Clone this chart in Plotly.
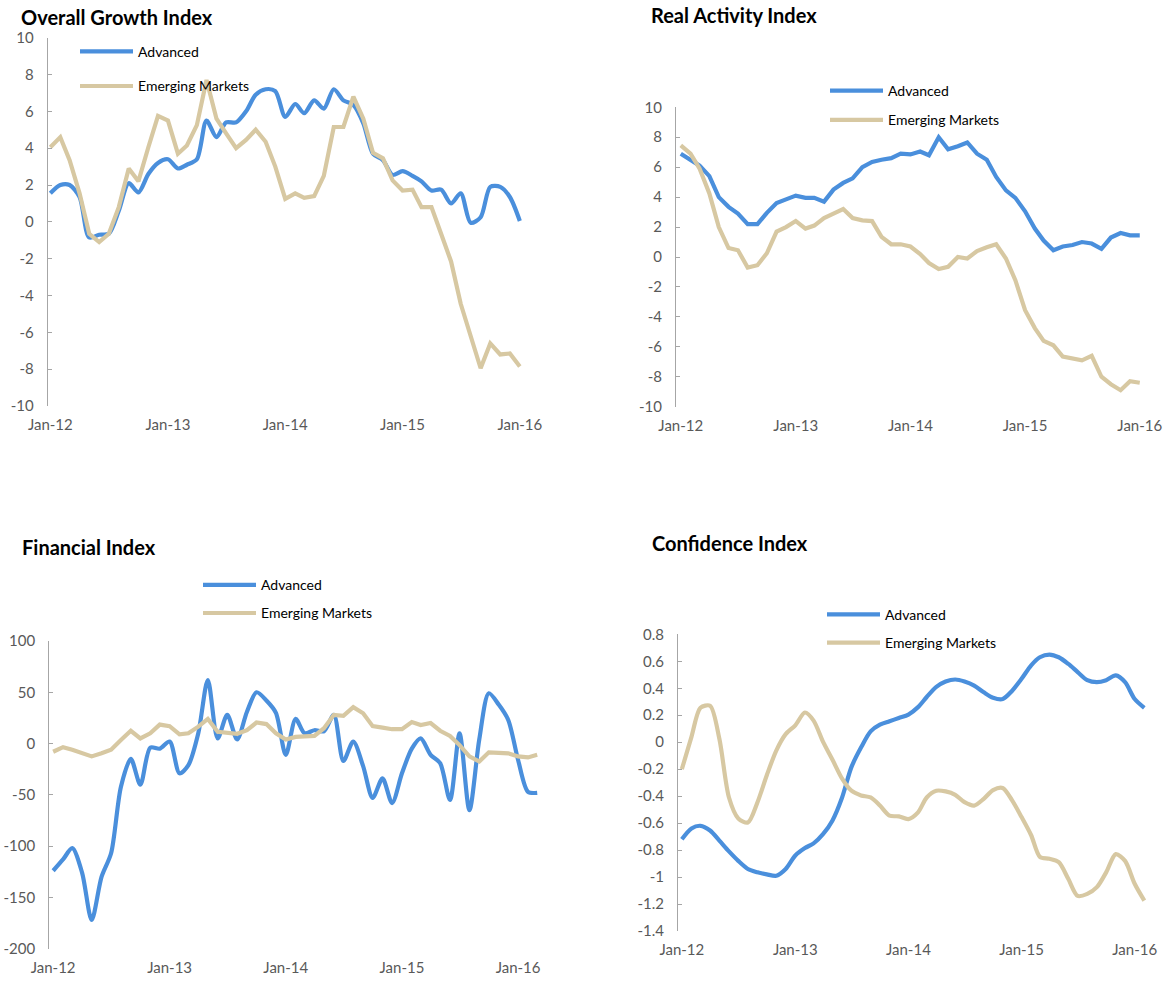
import pandas as pd
import plotly.graph_objects as go

# ---------------- DATA ----------------
dates49 = pd.date_range("2012-01-01", periods=49, freq="MS")
dates50 = pd.date_range("2012-01-01", periods=50, freq="MS")
dates51 = pd.date_range("2012-01-01", periods=51, freq="MS")

growth_adv = [1.55, 2.0, 2.0, 1.35, -0.85, -0.7, -0.65, 0.6, 2.1, 1.6, 2.6, 3.2, 3.4,
              2.9, 3.1, 3.4, 5.5, 4.6, 5.4, 5.4, 6.0, 6.9, 7.2, 7.1, 5.7, 6.4, 5.9,
              6.6, 6.15, 7.2, 6.6, 6.35, 5.35, 3.7, 3.35, 2.55, 2.75, 2.5, 2.2, 1.7,
              1.75, 1.0, 1.55, -0.05, 0.25, 1.9, 1.9, 1.35, 0.05]
growth_em = [4.05, 4.6, 3.35, 1.55, -0.65, -1.1, -0.65, 0.8, 2.9, 2.2, 4.05, 5.75, 5.5,
             3.7, 4.15, 5.25, 7.7, 5.6, 4.8, 4.0, 4.45, 5.0, 4.35, 3.0, 1.25, 1.55, 1.3,
             1.4, 2.5, 5.15, 5.15, 6.8, 5.6, 3.75, 3.45, 2.25, 1.7, 1.75, 0.8, 0.8,
             -0.65, -2.15, -4.45, -6.25, -7.95, -6.6, -7.2, -7.15, -7.85]

real_adv = [6.9, 6.5, 6.1, 5.4, 4.0, 3.35, 2.9, 2.2, 2.2, 2.95, 3.6, 3.85, 4.1, 3.95,
            3.95, 3.7, 4.5, 4.95, 5.25, 6.0, 6.35, 6.5, 6.6, 6.9, 6.85, 7.05, 6.8, 8.0,
            7.2, 7.4, 7.65, 6.9, 6.5, 5.35, 4.45, 3.95, 3.05, 1.9, 1.1, 0.45, 0.7, 0.8,
            1.0, 0.9, 0.55, 1.3, 1.6, 1.45, 1.45]
real_em = [7.45, 6.9, 5.9, 4.25, 2.0, 0.6, 0.45, -0.7, -0.55, 0.25, 1.7, 2.0, 2.4, 1.9,
           2.1, 2.6, 2.9, 3.2, 2.6, 2.45, 2.4, 1.35, 0.85, 0.85, 0.7, 0.2, -0.4, -0.8,
           -0.65, 0.0, -0.1, 0.4, 0.65, 0.85, -0.1, -1.55, -3.55, -4.75, -5.6, -5.9,
           -6.65, -6.75, -6.9, -6.6, -8.0, -8.5, -8.9, -8.3, -8.4]

fin_adv = [-124, -113, -102, -126, -172, -130, -107, -42, -15, -40, -4, -5, 2, -29,
           -21, 10, 62, 5, 28, 4, 31, 50, 42, 30, -11, 24, 10, 13, 12, 28, -17, 2,
           -22, -53, -34, -58, -29, -5, 5, -11, -19, -55, 10, -65, 4, 49, 38, 23,
           -16, -47, -48]
fin_em = [-8, -3.5, -6, -9.5, -12.5, -9.5, -6, 3.5, 12.5, 5, 10, 18.5, 17, 9, 10, 16.5,
          24, 11.5, 11, 9.5, 13, 20.5, 19, 10, 4, 6.5, 7, 7.5, 15, 28, 27, 35.5, 29.5,
          17, 15.5, 14, 14, 21, 18, 20, 12.5, 7.5, -1.5, -12.5, -17.5, -8.5, -9, -9.5,
          -12.5, -13.5, -11]

conf_adv = [-0.72, -0.64, -0.62, -0.655, -0.73, -0.81, -0.88, -0.94, -0.965, -0.98,
            -0.99, -0.94, -0.84, -0.785, -0.75, -0.68, -0.58, -0.41, -0.185, -0.04,
            0.08, 0.13, 0.155, 0.18, 0.205, 0.26, 0.335, 0.41, 0.45, 0.465, 0.45, 0.42,
            0.37, 0.33, 0.32, 0.38, 0.47, 0.57, 0.63, 0.65, 0.63, 0.58, 0.52, 0.46,
            0.445, 0.46, 0.495, 0.445, 0.32, 0.255]
conf_em = [-0.2, 0.04, 0.255, 0.27, 0.025, -0.41, -0.565, -0.595, -0.445, -0.245,
           -0.06, 0.06, 0.125, 0.22, 0.16, 0.0, -0.13, -0.27, -0.36, -0.395, -0.41,
           -0.47, -0.545, -0.55, -0.57, -0.52, -0.41, -0.36, -0.365, -0.39, -0.445,
           -0.47, -0.42, -0.355, -0.34, -0.43, -0.555, -0.69, -0.85, -0.865, -0.89,
           -1.015, -1.14, -1.125, -1.075, -0.965, -0.83, -0.88, -1.05, -1.175]

series_names = ["Advanced", "Emerging Markets"]
titles = ["Overall Growth Index", "Real Activity Index", "Financial Index", "Confidence Index"]

x_tick_vals = ["2012-01-01", "2013-01-01", "2014-01-01", "2015-01-01", "2016-01-01"]
x_tick_text = ["Jan-12", "Jan-13", "Jan-14", "Jan-15", "Jan-16"]

y_ticks_growth = [10, 8, 6, 4, 2, 0, -2, -4, -6, -8, -10]
y_ticks_fin = [100, 50, 0, -50, -100, -150, -200]
y_ticks_conf = [0.8, 0.6, 0.4, 0.2, 0, -0.2, -0.4, -0.6, -0.8, -1, -1.2, -1.4]

# ---------------- STYLE ----------------
W, H = 1163, 982
BLUE = "#4A8FDC"
TAN = "#D7C8A2"
AXIS = "#A6A6A6"
TICKFONT = dict(family="Lato", size=15, color="#595959")
LEGFONT = dict(family="Lato", size=14, color="#000000")


def px_x(p):
    return p / W


def px_y(p):
    return 1 - p / H


def mdate(m):
    base = pd.Timestamp("2012-01-01")
    whole = int(m // 1)
    frac = m - whole
    d = base + pd.DateOffset(months=whole) + pd.Timedelta(days=frac * 30.4)
    return d.strftime("%Y-%m-%d %H:%M")


def fmt(v):
    return "%g" % v


panels = [
    dict(x0=47.7, x1=544, yt=37.7, yb=406.0, yr=[-10, 10], mr=[-0.25, 50.5], yticks=y_ticks_growth,
         data=(dates49, growth_adv, growth_em), smooth=(True, False),
         title=(19, 17.5), leg=(75, 35.7), gap=13.5),
    dict(x0=676, x1=1161, yt=107.3, yb=406.7, yr=[-10, 10], mr=[-0.48, 50.25], yticks=y_ticks_growth,
         data=(dates49, real_adv, real_em), smooth=(False, False),
         title=(649, 15), leg=(825, 75), gap=8),
    dict(x0=49.1, x1=543, yt=641, yb=948.7, yr=[-200, 100], mr=[-0.4, 50.6], yticks=y_ticks_fin,
         data=(dates51, fin_adv, fin_em), smooth=(True, False),
         title=(20, 547), leg=(198, 569.2), gap=7),
    dict(x0=678, x1=1158, yt=634.3, yb=931, yr=[-1.4, 0.8], mr=[-0.39, 50.5], yticks=y_ticks_conf,
         data=(dates50, conf_adv, conf_em), smooth=(True, True),
         title=(650, 543), leg=(822, 598.8), gap=7),
]

fig = go.Figure()
layout = dict(width=W, height=H, margin=dict(l=0, r=0, t=0, b=0, autoexpand=False),
              paper_bgcolor="white", plot_bgcolor="white", showlegend=True)
annotations = []

for i, p in enumerate(panels):
    n = i + 1
    sfx = "" if n == 1 else str(n)
    xa, ya = "x" + sfx, "y" + sfx
    leg = "legend" + sfx
    dts, adv, em = p["data"]
    for k, (vals, col) in enumerate([(adv, BLUE), (em, TAN)]):
        shape = "spline" if p["smooth"][k] else "linear"
        fig.add_trace(go.Scatter(
            x=dts, y=vals, name=series_names[k], mode="lines",
            line=dict(color=col, width=4.2, shape=shape, smoothing=0.8),
            xaxis=xa, yaxis=ya, legend=leg, legendgroup=f"g{n}{k}",
            hoverinfo="skip"))
    xdom = [px_x(p["x0"]), min(1.0, px_x(p["x1"]))]
    ydom = [px_y(p["yb"]), px_y(p["yt"])]
    xr = [mdate(p["mr"][0]), mdate(p["mr"][1])]
    layout["xaxis" + sfx] = dict(
        domain=xdom, range=xr, type="date", anchor=ya, automargin=False,
        tickvals=x_tick_vals, ticktext=x_tick_text, tickfont=TICKFONT,
        showline=False, ticks="", showgrid=False, zeroline=False,
        ticklabelstandoff=8, fixedrange=True)
    layout["yaxis" + sfx] = dict(
        domain=ydom, range=p["yr"], anchor=xa, automargin=False,
        tickvals=p["yticks"], ticktext=[fmt(v) for v in p["yticks"]],
        tickfont=TICKFONT, showline=True, linecolor=AXIS, linewidth=1,
        ticks="inside", ticklen=4, tickcolor=AXIS, showgrid=False,
        zeroline=False, ticklabelstandoff=10, fixedrange=True)
    y0, y1 = p["yr"]
    zero_pos = ydom[0] + (0 - y0) / (y1 - y0) * (ydom[1] - ydom[0])
    ov = "xaxis" + str(n + 4)
    layout[ov] = dict(
        domain=xdom, range=xr, type="date", overlaying=xa, anchor="free",
        position=zero_pos, side="bottom", tickvals=x_tick_vals, automargin=False,
        showticklabels=False, showline=True, linecolor=AXIS, linewidth=1.3,
        ticks="outside", ticklen=4, tickcolor=AXIS, showgrid=False,
        zeroline=False, fixedrange=True)
    layout[leg] = dict(
        x=px_x(p["leg"][0]), y=px_y(p["leg"][1]), xanchor="left", yanchor="top",
        bgcolor="rgba(0,0,0,0)", font=LEGFONT, traceorder="grouped",
        tracegroupgap=p["gap"], itemwidth=53)
    annotations.append(dict(
        x=px_x(p["title"][0]), y=px_y(p["title"][1]), xref="paper", yref="paper",
        xanchor="left", yanchor="middle", showarrow=False,
        text="<b>" + titles[i] + "</b>",
        font=dict(family="Lato", size=20, color="#000000")))

layout["annotations"] = annotations
fig.update_layout(**layout)
fig.write_html(
    "out.html",
    config={"displayModeBar": False, "staticPlot": False},
    post_script="document.body.style.margin='0';document.body.style.overflow='hidden';")
